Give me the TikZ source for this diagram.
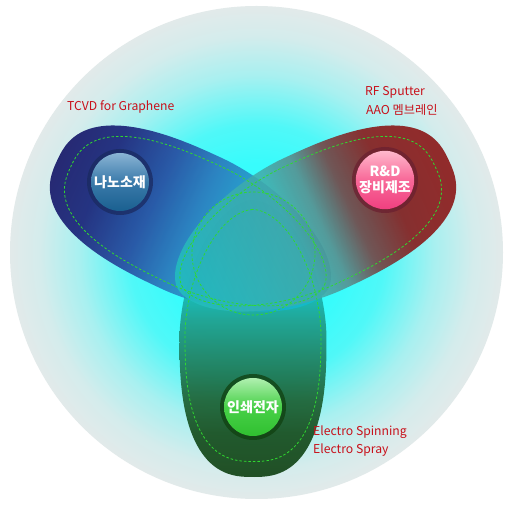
\documentclass[tikz,border=0pt]{standalone}
\usepackage{fontspec}
\setmainfont{Noto Sans CJK KR}
\definecolor{lblred}{HTML}{C8101A}
\definecolor{bgA}{HTML}{38FCFC}
\definecolor{bgB}{HTML}{50F8F8}
\definecolor{bgC}{HTML}{A8F0F0}
\definecolor{bgD}{HTML}{D4ECEC}
\definecolor{bgE}{HTML}{E2EAEA}
\definecolor{bA}{HTML}{0A0A60}
\definecolor{bB}{HTML}{101570}
\definecolor{bC}{HTML}{24409A}
\definecolor{bD}{HTML}{2A70B8}
\definecolor{bE}{HTML}{2496C8}
\definecolor{bF}{HTML}{1AAAD0}
\definecolor{bG}{HTML}{10C0CC}
\definecolor{rA}{HTML}{860606}
\definecolor{rB}{HTML}{880A0A}
\definecolor{rC}{HTML}{783838}
\definecolor{rD}{HTML}{5A8888}
\definecolor{rE}{HTML}{44A8A8}
\definecolor{rF}{HTML}{20C0C0}
\definecolor{gA}{HTML}{083A0A}
\definecolor{gB}{HTML}{0E4614}
\definecolor{gC}{HTML}{185A2A}
\definecolor{gD}{HTML}{1E7A58}
\definecolor{gE}{HTML}{1E9A88}
\definecolor{gF}{HTML}{18AEA8}
\definecolor{gG}{HTML}{10C0C0}
\definecolor{dashgreen}{HTML}{30D830}
\definecolor{nbTop}{HTML}{8AB4D4}
\definecolor{nbMid}{HTML}{3A7AAA}
\definecolor{nbBot}{HTML}{1A6090}
\definecolor{nbRing}{HTML}{1A2A60}
\definecolor{pkTop}{HTML}{FFB8CC}
\definecolor{pkMid}{HTML}{F86898}
\definecolor{pkBot}{HTML}{F04080}
\definecolor{pkRing}{HTML}{6A2030}
\definecolor{grTop}{HTML}{B0F0B0}
\definecolor{grMid}{HTML}{48D048}
\definecolor{grBot}{HTML}{30C030}
\definecolor{grRing}{HTML}{104010}
\pgfdeclareradialshading{bgshade}{\pgfpointorigin}{color(0bp)=(bgA); color(9bp)=(bgA); color(13bp)=(bgB); color(18bp)=(bgC); color(22bp)=(bgD); color(25bp)=(bgE); color(50bp)=(bgE)}
\pgfdeclarehorizontalshading{blueshade}{100bp}{color(0bp)=(bA); color(25bp)=(bA); color(33bp)=(bB); color(42.3bp)=(bC); color(49.7bp)=(bD); color(57bp)=(bE); color(64.3bp)=(bF); color(75bp)=(bG); color(100bp)=(bG)}
\pgfdeclarehorizontalshading{redshade}{100bp}{color(0bp)=(rA); color(25bp)=(rA); color(36bp)=(rB); color(43.3bp)=(rC); color(48.8bp)=(rD); color(54bp)=(rE); color(75bp)=(rF); color(100bp)=(rF)}
\pgfdeclarehorizontalshading{greenshade}{100bp}{color(0bp)=(gA); color(25bp)=(gA); color(33bp)=(gB); color(38.9bp)=(gC); color(46.1bp)=(gD); color(53.3bp)=(gE); color(57bp)=(gF); color(75bp)=(gG); color(100bp)=(gG)}
\begin{document}
\begin{tikzpicture}[x=1pt,y=1pt,
  lobe/.style n args={3}{insert path={plot[domain=0.5:360.5, samples=121, variable=\t]
     ({#3+#1*ifthenelse(cos(\t)<0,-1,1)*pow(abs(cos(\t)),ifthenelse(cos(\t)<0,0.77,1.11))},
      {#2*ifthenelse(sin(\t)<0,-1,1)*pow(abs(sin(\t)),ifthenelse(cos(\t)<0,0.77,1.11))}) -- cycle}},
  lbl/.style={text=lblred, font=\fontsize{12.2}{14}\selectfont, inner sep=0pt, anchor=west},
  ctext/.style={text=white, font=\bfseries\fontsize{14}{15.5}\selectfont, align=center, inner sep=0pt, circle, minimum size=58pt},
  ringnode/.style={circle, minimum size=66pt, inner sep=0pt, fill opacity=0.75},
  dashln/.style={draw=dashgreen, line width=0.8pt, dash pattern=on 2.5pt off 2pt}]
\fill[white] (0,0) rectangle (512,506);
\useasboundingbox (0,0) rectangle (512,506);
\shade[shading=bgshade] (256.5,253.5) circle (246.5);
% green lobe
\begin{scope}[transform canvas={shift={(253pt,167.5pt)},rotate=90}]
  \shade[shading=greenshade, fill opacity=0.88, lobe={138.5}{73.5}{0}];
\end{scope}
% blue lobe
\begin{scope}[transform canvas={shift={(193pt,282pt)},rotate=-25}]
  \shade[shading=blueshade, fill opacity=0.86, lobe={150}{72}{0}];
\end{scope}
% red lobe
\begin{scope}[transform canvas={shift={(313pt,282pt)},rotate=205}]
  \shade[shading=redshade, fill opacity=0.84, lobe={150}{72}{0}];
\end{scope}
% dashed outlines
\begin{scope}[transform canvas={shift={(193pt,282pt)},rotate=-25}]
  \path[dashln, lobe={140}{64}{5}];
\end{scope}
\begin{scope}[transform canvas={shift={(313pt,282pt)},rotate=205}]
  \path[dashln, lobe={140}{64}{5}];
\end{scope}
\begin{scope}[transform canvas={shift={(253pt,167.5pt)},rotate=90}]
  \path[dashln, lobe={126}{68}{3}];
\end{scope}
\draw[dashln] (253.5,252.5) circle (61.5);
% buttons
\node[ringnode, fill=nbRing] (nanoR) at (120,324) {};
\node[ctext, top color=nbTop, bottom color=nbBot, middle color=nbMid] (nano) at (120,324) {나노소재};
\node[ringnode, fill=pkRing] (rdR) at (385,326) {};
\node[ctext, top color=pkTop, bottom color=pkBot, middle color=pkMid] (rd) at (385,326) {R\&D\\장비제조};
\node[ringnode, fill=grRing] (prR) at (253,99) {};
\node[ctext, top color=grTop, bottom color=grBot, middle color=grMid] (pr) at (253,99) {인쇄전자};
% labels
\node[lbl] (tcvd) at (67,399) {TCVD for Graphene};
\node[lbl] (rf) at (365,414) {RF Sputter};
\node[lbl] (aao) at (366,396) {AAO 멤브레인};
\node[lbl] (es1) at (313,74) {Electro Spinning};
\node[lbl] (es2) at (313,56) {Electro Spray};
\end{tikzpicture}
\end{document}
